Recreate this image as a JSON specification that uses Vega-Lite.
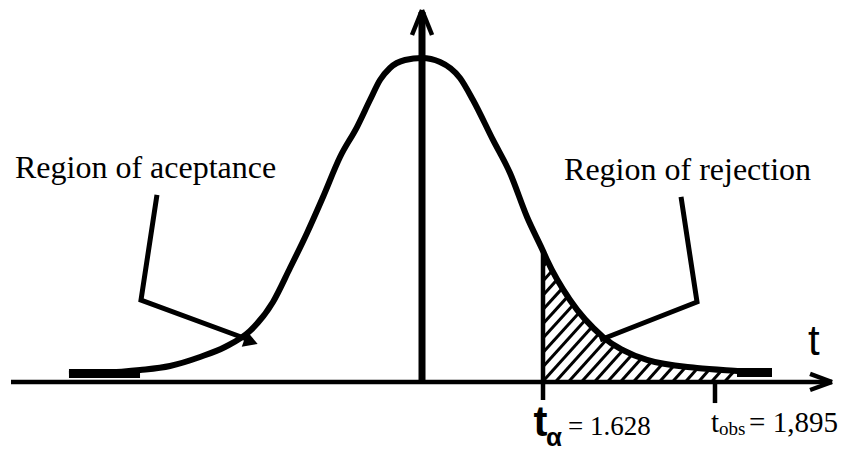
{
  "$schema": "https://vega.github.io/schema/vega-lite/v6.json",
  "width": 849,
  "height": 454,
  "padding": 0,
  "autosize": {"type": "none"},
  "background": "white",
  "config": {"view": {"stroke": null}},
  "datasets": {
    "curve": [
      {"t": -4.750, "d": 0.0099}, {"t": -4.333, "d": 0.0111}, {"t": -3.794, "d": 0.0148},
      {"t": -3.391, "d": 0.0198}, {"t": -2.987, "d": 0.0309}, {"t": -2.651, "d": 0.0432},
      {"t": -2.314, "d": 0.0630}, {"t": -2.005, "d": 0.0988}, {"t": -1.776, "d": 0.1407},
      {"t": -1.547, "d": 0.1840}, {"t": -1.332, "d": 0.2284}, {"t": -1.103, "d": 0.2778},
      {"t": -0.875, "d": 0.3148}, {"t": -0.700, "d": 0.3481}, {"t": -0.565, "d": 0.3728},
      {"t": -0.431, "d": 0.3877}, {"t": -0.229, "d": 0.3975}, {"t": 0, "d": 0.4},
      {"t": 0.242, "d": 0.3951}, {"t": 0.511, "d": 0.3753}, {"t": 0.686, "d": 0.3481},
      {"t": 0.955, "d": 0.2988}, {"t": 1.184, "d": 0.2580}, {"t": 1.413, "d": 0.2037},
      {"t": 1.628, "d": 0.1617}, {"t": 1.682, "d": 0.1506}, {"t": 1.991, "d": 0.1012},
      {"t": 2.435, "d": 0.0556}, {"t": 3.027, "d": 0.0272}, {"t": 3.700, "d": 0.0173},
      {"t": 4.279, "d": 0.0136}, {"t": 4.682, "d": 0.0111}
    ],
    "tails": [
      {"t": -4.750, "t2": -3.794, "d": 0.0105},
      {"t": 4.238, "t2": 4.709, "d": 0.0117}
    ],
    "axes": [
      {"t": -5.530, "d": 0, "t2": 5.517, "d2": 0},
      {"t": 5.221, "d": 0.0099, "t2": 5.517, "d2": 0},
      {"t": 5.221, "d": -0.0099, "t2": 5.517, "d2": 0},
      {"t": -0.135, "d": 0.4284, "t2": 0, "d2": 0.4593},
      {"t": 0.135, "d": 0.4284, "t2": 0, "d2": 0.4593},
      {"t": 1.628, "d": 0.1617, "t2": 1.628, "d2": -0.0222},
      {"t": 3.942, "d": 0, "t2": 3.942, "d2": -0.026}
    ],
    "vaxis": [
      {"t": 0, "d": 0, "t2": 0, "d2": 0.4568}
    ],
    "hatch": [
      {"t": 1.628, "d": 0.1425, "t2": 1.693, "d2": 0.1490},
      {"t": 1.628, "d": 0.1248, "t2": 1.760, "d2": 0.1382},
      {"t": 1.628, "d": 0.1072, "t2": 1.827, "d2": 0.1273},
      {"t": 1.628, "d": 0.0895, "t2": 1.896, "d2": 0.1165},
      {"t": 1.628, "d": 0.0719, "t2": 1.963, "d2": 0.1057},
      {"t": 1.628, "d": 0.0542, "t2": 2.042, "d2": 0.0961},
      {"t": 1.628, "d": 0.0365, "t2": 2.129, "d2": 0.0870},
      {"t": 1.628, "d": 0.0189, "t2": 2.216, "d2": 0.0783},
      {"t": 1.628, "d": 0.001, "t2": 2.302, "d2": 0.0693},
      {"t": 1.803, "d": 0.001, "t2": 2.388, "d2": 0.0604},
      {"t": 1.978, "d": 0.001, "t2": 2.491, "d2": 0.0530},
      {"t": 2.153, "d": 0.001, "t2": 2.609, "d2": 0.0473},
      {"t": 2.328, "d": 0.001, "t2": 2.727, "d2": 0.0416},
      {"t": 2.503, "d": 0.001, "t2": 2.846, "d2": 0.0359},
      {"t": 2.678, "d": 0.001, "t2": 2.964, "d2": 0.0301},
      {"t": 2.852, "d": 0.001, "t2": 3.099, "d2": 0.0262},
      {"t": 3.027, "d": 0.001, "t2": 3.252, "d2": 0.0240},
      {"t": 3.202, "d": 0.001, "t2": 3.404, "d2": 0.0216},
      {"t": 3.377, "d": 0.001, "t2": 3.558, "d2": 0.0194},
      {"t": 3.552, "d": 0.001, "t2": 3.710, "d2": 0.0172},
      {"t": 3.727, "d": 0.001, "t2": 3.875, "d2": 0.0162},
      {"t": 3.902, "d": 0.001, "t2": 4.039, "d2": 0.0151},
      {"t": 4.077, "d": 0.001, "t2": 4.203, "d2": 0.0137}
    ],
    "pointers": [
      {"pointer": "acceptance", "i": 0, "t": -3.566, "d": 0.2309},
      {"pointer": "acceptance", "i": 1, "t": -3.781, "d": 0.1012},
      {"pointer": "acceptance", "i": 2, "t": -2.287, "d": 0.0506},
      {"pointer": "rejection", "i": 0, "t": 3.485, "d": 0.2284},
      {"pointer": "rejection", "i": 1, "t": 3.700, "d": 0.0988},
      {"pointer": "rejection", "i": 2, "t": 2.395, "d": 0.0519}
    ],
    "arrowtip": [
      {"t": -2.30, "d": 0.050}
    ],
    "regionLabels": [
      {"t": -5.476, "d": 0.2519, "label": "Region of aceptance"},
      {"t": 1.911, "d": 0.2494, "label": "Region of rejection"}
    ],
    "axisLabel": [
      {"t": 5.194, "d": 0.0333, "label": "t"}
    ],
    "talphaT": [
      {"t": 1.500, "d": -0.0667, "label": "t"}
    ],
    "talphaSub": [
      {"t": 1.668, "d": -0.0790, "label": "α"}
    ],
    "alphaValue": [
      {"t": 1.965, "d": -0.0654, "label": "= 1.628"}
    ],
    "obsValues": [
      {"t": 3.888, "d": -0.0617, "label": "t"},
      {"t": 4.400, "d": -0.0617, "label": "= 1,895"}
    ],
    "obsSub": [
      {"t": 3.996, "d": -0.0654, "label": "obs"}
    ]
  },
  "encoding": {
    "x": {"field": "t", "type": "quantitative", "scale": {"domain": [-5.678, 5.745], "nice": false, "zero": false}, "axis": null},
    "y": {"field": "d", "type": "quantitative", "scale": {"domain": [-0.0889, 0.4716], "nice": false, "zero": false}, "axis": null}
  },
  "layer": [
    {
      "data": {"name": "hatch"},
      "mark": {"type": "rule", "color": "black", "strokeWidth": 3, "strokeCap": "butt"},
      "encoding": {"x2": {"field": "t2"}, "y2": {"field": "d2"}}
    },
    {
      "data": {"name": "curve"},
      "mark": {"type": "line", "color": "black", "strokeWidth": 6, "interpolate": "monotone", "strokeCap": "butt"},
      "encoding": {}
    },
    {
      "data": {"name": "tails"},
      "mark": {"type": "rule", "color": "black", "strokeWidth": 9, "strokeCap": "butt"},
      "encoding": {"x2": {"field": "t2"}}
    },
    {
      "data": {"name": "axes"},
      "mark": {"type": "rule", "color": "black", "strokeWidth": 4.5, "strokeCap": "butt"},
      "encoding": {"x2": {"field": "t2"}, "y2": {"field": "d2"}}
    },
    {
      "data": {"name": "vaxis"},
      "mark": {"type": "rule", "color": "black", "strokeWidth": 7, "strokeCap": "butt"},
      "encoding": {"x2": {"field": "t2"}, "y2": {"field": "d2"}}
    },
    {
      "data": {"name": "pointers"},
      "mark": {"type": "line", "color": "black", "strokeWidth": 5, "strokeJoin": "miter", "strokeCap": "butt"},
      "encoding": {"order": {"field": "i", "type": "quantitative"}, "detail": {"field": "pointer", "type": "nominal"}}
    },
    {
      "data": {"name": "arrowtip"},
      "mark": {"type": "point", "shape": "triangle-right", "filled": true, "color": "black", "opacity": 1, "size": 260, "angle": 20}
    },
    {
      "data": {"name": "regionLabels"},
      "mark": {"type": "text", "font": "Liberation Serif", "fontSize": 32, "align": "left", "baseline": "alphabetic", "color": "black"},
      "encoding": {"text": {"field": "label", "type": "nominal"}}
    },
    {
      "data": {"name": "axisLabel"},
      "mark": {"type": "text", "font": "Liberation Sans", "fontSize": 42, "align": "left", "baseline": "alphabetic", "color": "black"},
      "encoding": {"text": {"field": "label", "type": "nominal"}}
    },
    {
      "data": {"name": "talphaT"},
      "mark": {"type": "text", "font": "Liberation Sans", "fontSize": 42, "fontWeight": "bold", "align": "left", "baseline": "alphabetic", "color": "black"},
      "encoding": {"text": {"field": "label", "type": "nominal"}}
    },
    {
      "data": {"name": "talphaSub"},
      "mark": {"type": "text", "font": "Liberation Sans", "fontSize": 26, "fontWeight": "bold", "align": "left", "baseline": "alphabetic", "color": "black"},
      "encoding": {"text": {"field": "label", "type": "nominal"}}
    },
    {
      "data": {"name": "alphaValue"},
      "mark": {"type": "text", "font": "Liberation Serif", "fontSize": 27, "align": "left", "baseline": "alphabetic", "color": "black"},
      "encoding": {"text": {"field": "label", "type": "nominal"}}
    },
    {
      "data": {"name": "obsValues"},
      "mark": {"type": "text", "font": "Liberation Serif", "fontSize": 29, "align": "left", "baseline": "alphabetic", "color": "black"},
      "encoding": {"text": {"field": "label", "type": "nominal"}}
    },
    {
      "data": {"name": "obsSub"},
      "mark": {"type": "text", "font": "Liberation Serif", "fontSize": 19, "align": "left", "baseline": "alphabetic", "color": "black"},
      "encoding": {"text": {"field": "label", "type": "nominal"}}
    }
  ]
}
